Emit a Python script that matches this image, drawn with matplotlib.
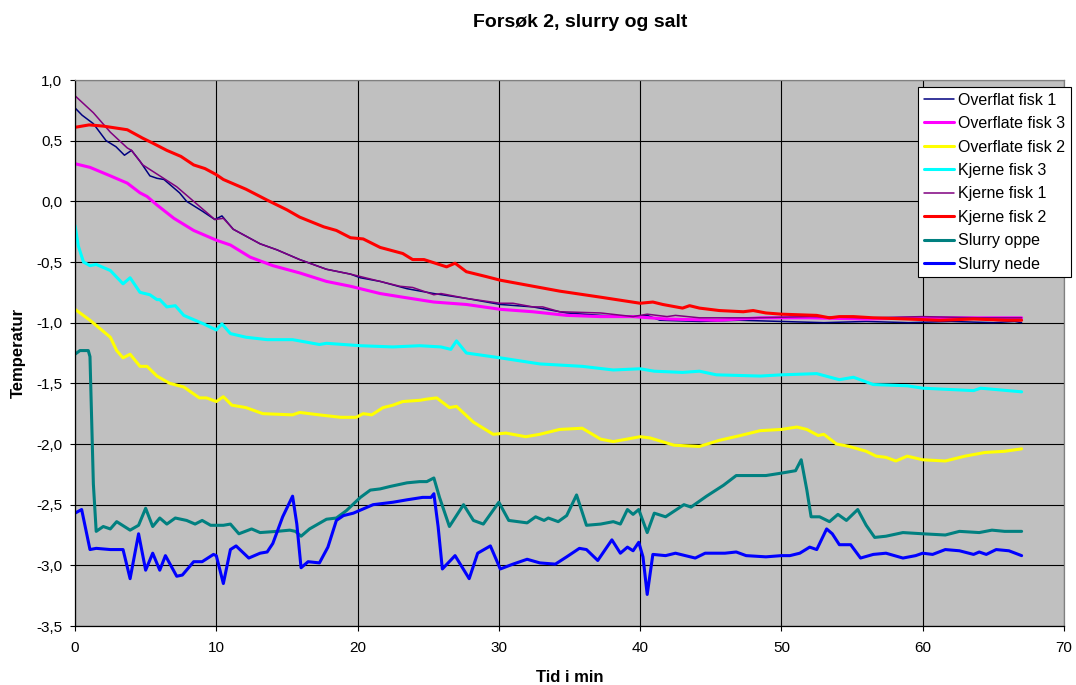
import matplotlib
matplotlib.use("Agg")
import matplotlib.pyplot as plt
from matplotlib.ticker import FuncFormatter, MultipleLocator

plt.rcParams['font.family'] = ['Liberation Sans', 'DejaVu Sans']

# time (min) and temperature for each series
t_overflat1 = [0, 0.5, 1.3, 2.2, 2.9, 3.5, 4.0, 4.6, 5.3, 5.8, 6.3, 6.9, 7.4, 7.9, 9.0, 9.9, 10.4, 11.2,
               13.1, 14.3, 15.9, 17.8, 19.5, 20.2, 21.6, 23.5, 25.4, 27.7, 30.1, 32.4, 34.8, 37.2, 39.5,
               40.5, 41.4, 44.2, 47, 50, 53, 56, 59, 62, 65, 66.5, 67]
v_overflat1 = [0.77, 0.71, 0.64, 0.50, 0.45, 0.38, 0.42, 0.33, 0.21, 0.19, 0.18, 0.12, 0.07, 0.00, -0.08,
               -0.15, -0.12, -0.23, -0.35, -0.40, -0.48, -0.56, -0.60, -0.63, -0.66, -0.72, -0.76, -0.80,
               -0.85, -0.87, -0.92, -0.94, -0.95, -0.94, -0.98, -0.99, -0.98, -0.99, -1.00, -0.99, -1.00,
               -0.99, -1.00, -0.99, -1.00]

t_overflate3 = [0, 1.06, 2.5, 3.7, 4.6, 5.1, 5.8, 7.0, 8.4, 10, 11, 12.4, 14, 15.9, 17.8, 19.5, 20.2,
                21.6, 23.2, 25.4, 27.7, 30.1, 32.4, 34.8, 37.2, 39.5, 41.9, 45.5, 48.5, 52, 56, 60, 64, 67]
v_overflate3 = [0.31, 0.28, 0.21, 0.15, 0.07, 0.04, -0.03, -0.14, -0.24, -0.32, -0.36, -0.46, -0.53,
                -0.59, -0.66, -0.70, -0.72, -0.76, -0.79, -0.83, -0.85, -0.89, -0.91, -0.94, -0.95, -0.95,
                -0.97, -0.98, -0.96, -0.96, -0.97, -0.96, -0.96, -0.96]

t_overflate2 = [0, 1.06, 2.5, 2.95, 3.4, 3.9, 4.6, 5.1, 5.8, 6.7, 7.7, 8.8, 9.3, 10, 10.5, 11.1, 12.1,
                13.3, 15.4, 15.9, 17.3, 18.8, 19.9, 20.4, 21, 21.8, 22.5, 23.2, 24.4, 24.9, 25.6, 26.5,
                27, 28.2, 29.6, 30.5, 31.9, 32.9, 34.3, 35.9, 37.2, 38.1, 40, 40.7, 42.4, 44.2, 45.6,
                47.1, 48.5, 50, 51.1, 51.8, 52.6, 53.0, 53.9, 54.8, 56, 56.7, 57.4, 58.1, 58.9, 60,
                61.6, 63, 64.4, 65.8, 67]
v_overflate2 = [-0.89, -0.98, -1.12, -1.23, -1.29, -1.26, -1.36, -1.36, -1.44, -1.50, -1.53, -1.62,
                -1.62, -1.65, -1.61, -1.68, -1.70, -1.75, -1.76, -1.74, -1.76, -1.78, -1.78, -1.75,
                -1.76, -1.70, -1.68, -1.65, -1.64, -1.63, -1.62, -1.70, -1.69, -1.82, -1.92, -1.91,
                -1.94, -1.92, -1.88, -1.87, -1.96, -1.98, -1.94, -1.95, -2.01, -2.02, -1.97, -1.93,
                -1.89, -1.88, -1.86, -1.88, -1.93, -1.92, -2.00, -2.02, -2.06, -2.10, -2.11, -2.14,
                -2.10, -2.13, -2.14, -2.10, -2.07, -2.06, -2.04]

t_kjerne3 = [0, 0.24, 0.6, 1.06, 1.5, 2.5, 3.4, 3.9, 4.6, 5.3, 5.8, 6.0, 6.5, 7.1, 7.7, 9.1, 10, 10.4,
             11, 12.1, 13.6, 15.4, 17.3, 17.8, 20.2, 22.5, 24.4, 25.9, 26.6, 27.0, 27.7, 30.1, 32.9,
             35.9, 38.1, 40, 41, 43, 44.2, 45.4, 48.5, 50, 52.5, 54.1, 55.1, 56.5, 58.9, 60, 63.6,
             64.1, 67]
v_kjerne3 = [-0.20, -0.37, -0.50, -0.53, -0.52, -0.57, -0.68, -0.63, -0.75, -0.77, -0.81, -0.81, -0.87,
             -0.86, -0.94, -1.01, -1.06, -1.01, -1.09, -1.12, -1.14, -1.14, -1.18, -1.17, -1.19, -1.20,
             -1.19, -1.20, -1.22, -1.15, -1.25, -1.29, -1.34, -1.36, -1.39, -1.38, -1.40, -1.41, -1.40,
             -1.43, -1.44, -1.43, -1.42, -1.47, -1.45, -1.51, -1.52, -1.54, -1.56, -1.54, -1.57]

t_kjerne1 = [0, 1.3, 2.5, 3.7, 4.0, 4.8, 6.0, 7.2, 8.4, 9.9, 10.5, 11.2, 13.1, 14.3, 15.9, 17.8, 19.5,
             20.2, 21.6, 23.0, 23.9, 25.4, 25.9, 27.7, 30.1, 31.0, 32.4, 33.1, 34.3, 37.2, 39.5, 40.5,
             41.9, 42.5, 44.2, 48, 52, 56, 60, 64, 67]
v_kjerne1 = [0.87, 0.73, 0.57, 0.44, 0.42, 0.30, 0.21, 0.12, 0.00, -0.15, -0.14, -0.23, -0.35, -0.40,
             -0.48, -0.56, -0.60, -0.62, -0.66, -0.70, -0.71, -0.77, -0.76, -0.80, -0.84, -0.84, -0.87,
             -0.87, -0.91, -0.92, -0.95, -0.93, -0.95, -0.94, -0.96, -0.96, -0.95, -0.96, -0.95, -0.96,
             -0.96]

t_kjerne2 = [0, 1, 2, 3.7, 4.8, 5.5, 6.5, 7.5, 8.4, 9.2, 10, 10.5, 12.1, 13.6, 15, 15.9, 17.6, 18.5,
             19.5, 20.4, 21.6, 23.2, 23.9, 24.7, 26.3, 26.9, 27.7, 29.1, 30.1, 31.5, 34.3, 37.2, 40.0,
             40.9, 41.6, 43.0, 43.5, 44.2, 45.6, 47.3, 48, 48.9, 50, 52.5, 53.4, 54.1, 55.1, 56.5,
             58.9, 61.2, 63.6, 66, 67]
v_kjerne2 = [0.61, 0.63, 0.62, 0.59, 0.52, 0.48, 0.42, 0.37, 0.30, 0.27, 0.22, 0.18, 0.10, 0.01, -0.07,
             -0.13, -0.21, -0.24, -0.30, -0.31, -0.38, -0.43, -0.48, -0.48, -0.54, -0.51, -0.58, -0.62,
             -0.65, -0.68, -0.74, -0.79, -0.84, -0.83, -0.85, -0.88, -0.86, -0.88, -0.90, -0.91, -0.90,
             -0.92, -0.93, -0.94, -0.96, -0.95, -0.95, -0.96, -0.97, -0.98, -0.97, -0.98, -0.98]

t_slurry_oppe = [0, 0.35, 0.94, 1.06, 1.3, 1.5, 2.0, 2.5, 2.95, 3.9, 4.5, 5.0, 5.5, 6.0, 6.5, 7.1, 7.9,
                 8.5, 9.0, 9.6, 10.5, 11.0, 11.6, 12.5, 13.1, 14.3, 15.2, 15.6, 16.0, 16.6, 17.8, 18.5,
                 19.2, 20.2, 20.9, 21.6, 22.3, 23.5, 24.4, 24.9, 25.4, 25.8, 26.5, 27.5, 28.2, 28.9,
                 30.0, 30.7, 32.0, 32.6, 33.2, 33.5, 34.2, 34.8, 35.5, 36.2, 37.2, 38.1, 38.6, 39.1,
                 39.5, 39.9, 40.5, 41.0, 41.8, 43.1, 43.6, 44.7, 45.9, 46.8, 47.5, 48.9, 50.0, 51.0,
                 51.4, 51.8, 52.1, 52.7, 53.4, 54.0, 54.6, 55.4, 56.0, 56.6, 57.4, 58.6, 60.0, 61.6,
                 62.6, 64.0, 64.9, 65.8, 67]
v_slurry_oppe = [-1.26, -1.23, -1.23, -1.28, -2.33, -2.72, -2.68, -2.70, -2.64, -2.71, -2.67, -2.53,
                 -2.68, -2.61, -2.66, -2.61, -2.63, -2.66, -2.63, -2.67, -2.67, -2.66, -2.74, -2.70,
                 -2.73, -2.72, -2.71, -2.72, -2.76, -2.70, -2.62, -2.61, -2.55, -2.44, -2.38, -2.37,
                 -2.35, -2.32, -2.31, -2.31, -2.28, -2.44, -2.68, -2.50, -2.63, -2.66, -2.48, -2.63,
                 -2.65, -2.60, -2.63, -2.61, -2.64, -2.59, -2.42, -2.67, -2.66, -2.64, -2.66, -2.54,
                 -2.58, -2.54, -2.73, -2.57, -2.60, -2.50, -2.52, -2.43, -2.34, -2.26, -2.26, -2.26,
                 -2.24, -2.22, -2.13, -2.38, -2.60, -2.60, -2.64, -2.58, -2.63, -2.54, -2.67, -2.77,
                 -2.76, -2.73, -2.74, -2.75, -2.72, -2.73, -2.71, -2.72, -2.72]

t_slurry_nede = [0, 0.47, 1.06, 1.5, 2.5, 3.4, 3.9, 4.5, 5.0, 5.5, 6.0, 6.4, 7.2, 7.6, 8.4, 9.0, 9.8,
                 10.0, 10.5, 11.0, 11.4, 12.3, 13.1, 13.6, 14.0, 14.7, 15.4, 15.7, 16.0, 16.5, 17.3,
                 17.9, 18.5, 19.0, 19.7, 21.1, 22.5, 23.5, 24.6, 25.2, 25.4, 25.7, 26.0, 26.9, 27.9,
                 28.5, 29.4, 30.1, 31.0, 32.0, 32.9, 34.0, 34.8, 35.7, 36.2, 37.0, 38.0, 38.6, 39.1,
                 39.5, 39.9, 40.2, 40.5, 40.9, 41.8, 42.5, 43.9, 44.6, 46.0, 46.8, 47.5, 48.9, 50.0,
                 50.6, 51.3, 52.0, 52.5, 53.2, 53.6, 54.1, 54.9, 55.6, 56.5, 57.4, 58.6, 59.5, 60.0,
                 60.7, 61.6, 62.6, 63.6, 64.0, 64.5, 65.2, 66.1, 67]
v_slurry_nede = [-2.57, -2.54, -2.87, -2.86, -2.87, -2.87, -3.11, -2.74, -3.04, -2.90, -3.04, -2.92,
                 -3.09, -3.08, -2.97, -2.97, -2.91, -2.92, -3.15, -2.87, -2.84, -2.94, -2.90, -2.89,
                 -2.82, -2.60, -2.43, -2.66, -3.02, -2.97, -2.98, -2.85, -2.63, -2.59, -2.57, -2.50,
                 -2.48, -2.46, -2.44, -2.44, -2.41, -2.68, -3.03, -2.92, -3.11, -2.90, -2.84, -3.03,
                 -2.99, -2.95, -2.98, -2.99, -2.93, -2.86, -2.87, -2.96, -2.79, -2.90, -2.85, -2.88,
                 -2.81, -2.93, -3.24, -2.91, -2.92, -2.90, -2.94, -2.90, -2.90, -2.89, -2.92, -2.93,
                 -2.92, -2.92, -2.90, -2.85, -2.87, -2.70, -2.74, -2.83, -2.83, -2.94, -2.91, -2.90,
                 -2.94, -2.92, -2.90, -2.91, -2.87, -2.88, -2.91, -2.89, -2.91, -2.87, -2.88, -2.92]

series = [
    ("Overflat fisk 1", t_overflat1, v_overflat1, "#000080", 1.1),
    ("Overflate fisk 3", t_overflate3, v_overflate3, "#FF00FF", 2.2),
    ("Overflate fisk 2", t_overflate2, v_overflate2, "#FFFF00", 2.2),
    ("Kjerne fisk 3", t_kjerne3, v_kjerne3, "#00FFFF", 2.2),
    ("Kjerne fisk 1", t_kjerne1, v_kjerne1, "#800080", 1.1),
    ("Kjerne fisk 2", t_kjerne2, v_kjerne2, "#FF0000", 2.2),
    ("Slurry oppe", t_slurry_oppe, v_slurry_oppe, "#008080", 2.2),
    ("Slurry nede", t_slurry_nede, v_slurry_nede, "#0000FF", 2.2),
]

W, H = 1076, 685
fig = plt.figure(figsize=(W / 100, H / 100), dpi=100)
ax = fig.add_axes([75 / W, 1 - 626 / H, (1064 - 75) / W, (626 - 80) / H])
ax.set_facecolor("#C0C0C0")

for name, t, v, col, lw in series:
    ax.plot(t, v, color=col, lw=lw, label=name, solid_joinstyle="round", solid_capstyle="round")

ax.set_xlim(0, 70)
ax.set_ylim(-3.5, 1.0)
ax.xaxis.set_major_locator(MultipleLocator(10))
ax.yaxis.set_major_locator(MultipleLocator(0.5))
ax.yaxis.set_major_formatter(FuncFormatter(lambda v, p: f"{v:.1f}".replace(".", ",")))
ax.grid(True, color="black", lw=0.8)
ax.set_axisbelow(True)
ax.tick_params(direction="out", length=3.6, width=0.8, labelsize=11, colors="black")
ax.tick_params(axis="x", pad=7)
ax.tick_params(axis="y", pad=5.5)
for s in ["left", "bottom"]:
    ax.spines[s].set_color("black")
    ax.spines[s].set_linewidth(0.9)
for s in ["top", "right"]:
    ax.spines[s].set_color("#808080")
    ax.spines[s].set_linewidth(0.9)

fig.text(580 / W, 1 - 27.3 / H, "Forsøk 2, slurry og salt", ha="center", va="baseline",
         fontsize=14, fontweight="bold")
fig.text(570 / W, 1 - 682 / H, "Tid i min", ha="center", va="baseline", fontsize=12, fontweight="bold")
fig.text(18 / W, 1 - 353 / H, "Temperatur", ha="center", va="center", rotation=90,
         fontsize=12, fontweight="bold")

leg = ax.legend(loc="upper right", bbox_to_anchor=(1071 / W, 1 - 87 / H), bbox_transform=fig.transFigure,
                borderaxespad=0, fancybox=False, edgecolor="black", framealpha=1, fontsize=11.5,
                handlelength=1.9, handletextpad=0.25, labelspacing=0.53, borderpad=0.35)
leg.get_frame().set_linewidth(0.8)

fig.savefig("out.png", dpi=100)
